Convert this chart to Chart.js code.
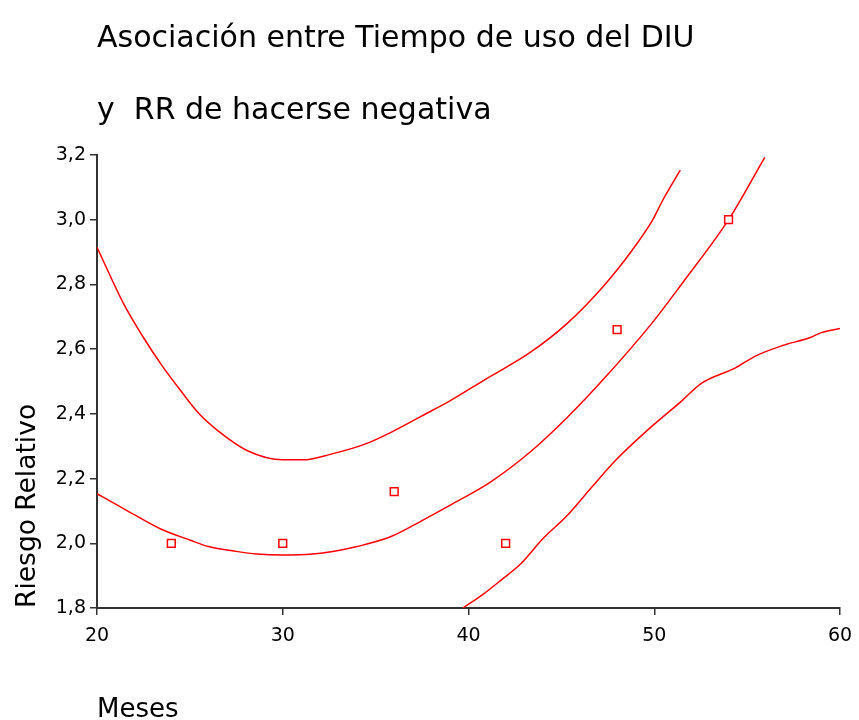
<!DOCTYPE html>
<html>
<head>
<meta charset="utf-8">
<script src="https://cdn.jsdelivr.net/npm/chart.js@4"></script>
<style>
   body { margin: 0; background: #fff; overflow: hidden; }
   #wrap { position: relative; width: 859px; height: 720px; }
   #grafico { display: block; }
   .txt {
      position: absolute;
      left: 97px;
      font-family: 'Comic Sans MS', 'DejaVu Sans', sans-serif;
      font-size: 30px;
      color: #000;
      white-space: pre;
      line-height: 1;
   }
</style>
</head>
<body>
<div id="wrap">
   <canvas id="grafico" width="859" height="720"></canvas>
   <div class="txt" style="top: 22px;">Asociación entre Tiempo de uso del DIU</div>
   <div class="txt" style="top: 94px;">y  RR de hacerse negativa</div>
   <div class="txt" style="top: 695px; font-size: 26px;">Meses</div>
</div>
<script>
// Ejes
const xTicks = [20, 30, 40, 50, 60];
const yTicks = [1.8, 2.0, 2.2, 2.4, 2.6, 2.8, 3.0, 3.2];

// RR observados
const mesesObs = [24, 30, 36, 42, 48, 54];
const rrObs = [2.0, 2.0, 2.16, 2.0, 2.66, 3.0];

// Curva ajustada
const mesesAjuste = [20, 21.5, 23.4, 25, 26, 27.5, 28.6, 30, 31.6, 33, 34, 35.8, 37.5, 39.4, 41.2, 43.4, 45.3, 47.3, 49.9, 51.5, 54, 55.95];
const rrAjuste = [2.153, 2.105, 2.045, 2.01, 1.99, 1.975, 1.967, 1.964, 1.967, 1.978, 1.99, 2.02, 2.07, 2.13, 2.19, 2.286, 2.388, 2.509, 2.682, 2.803, 3.0, 3.193];

// Limite superior
const mesesSup = [20, 21.4, 22.5, 23.5, 24.5, 25.5, 26.5, 28.1, 30, 31.1, 32.5, 34.5, 35.8, 37.5, 39, 40.8, 43.3, 45.3, 47.3, 48.8, 49.9, 50.4, 51.4];
const rrSup = [2.915, 2.744, 2.636, 2.549, 2.472, 2.40, 2.348, 2.286, 2.258, 2.258, 2.274, 2.308, 2.342, 2.394, 2.44, 2.503, 2.589, 2.679, 2.797, 2.905, 2.998, 3.054, 3.153];

// Limite inferior
const mesesInf = [39.7, 40.8, 41.7, 42.8, 44.0, 45.3, 46.7, 48.0, 49.9, 51.5, 52.5, 54.4, 55.5, 56.9, 58.4, 59.0, 60];
const rrInf = [1.80, 1.843, 1.884, 1.936, 2.014, 2.085, 2.178, 2.261, 2.363, 2.441, 2.493, 2.543, 2.58, 2.611, 2.636, 2.651, 2.664];

const rojo = '#ff0000';
const ejeColor = '#333333';
const fuente = "'Comic Sans MS', 'DejaVu Sans', sans-serif";

function puntos(xs, ys) {
   return xs.map((x, i) => ({ x: x, y: ys[i] }));
}

function curva(xs, ys) {
   return {
      type: 'line',
      data: puntos(xs, ys),
      borderColor: rojo,
      borderWidth: 1.5,
      pointRadius: 0,
      cubicInterpolationMode: 'monotone',
      fill: false,
      order: 1
   };
}

new Chart(document.getElementById('grafico'), {
   type: 'scatter',
   data: {
      datasets: [
         {
            data: puntos(mesesObs, rrObs),
            pointStyle: 'rect',
            pointRadius: 5.5,
            borderColor: rojo,
            backgroundColor: '#ffffff',
            borderWidth: 1.5,
            order: 0
         },
         curva(mesesAjuste, rrAjuste),
         curva(mesesSup, rrSup),
         curva(mesesInf, rrInf)
      ]
   },
   options: {
      responsive: false,
      animation: false,
      layout: {
         padding: { top: 155, right: 19, left: 0, bottom: 0 }
      },
      plugins: {
         legend: { display: false },
         tooltip: { enabled: false }
      },
      scales: {
         x: {
            type: 'linear',
            min: 20,
            max: 60,
            afterFit: function (scale) {
               scale.height = 112;
               // el margen derecho lo fija layout.padding
               scale.paddingLeft = 0;
               scale.paddingRight = 0;
            },
            afterBuildTicks: function (scale) {
               scale.ticks = xTicks.map(v => ({ value: v }));
            },
            ticks: {
               color: '#000',
               padding: 10,
               font: { family: fuente, size: 19 }
            },
            grid: {
               drawOnChartArea: false,
               drawTicks: true,
               tickLength: 7,
               color: ejeColor,
               lineWidth: 1.5
            },
            border: { color: ejeColor, width: 2 }
         },
         y: {
            min: 1.8,
            max: 3.2,
            afterFit: function (scale) { scale.width = 97; },
            afterBuildTicks: function (scale) {
               scale.ticks = yTicks.map(v => ({ value: v }));
            },
            ticks: {
               color: '#000',
               padding: 4,
               font: { family: fuente, size: 19 },
               callback: function (v) { return v.toFixed(1).replace('.', ','); }
            },
            grid: {
               drawOnChartArea: false,
               drawTicks: true,
               tickLength: 7,
               color: ejeColor,
               lineWidth: 1.5
            },
            border: { color: ejeColor, width: 2 },
            title: {
               display: true,
               text: 'Riesgo Relativo',
               align: 'start',
               color: '#000',
               padding: { top: 12, bottom: 0 },
               font: { family: fuente, size: 26.5 }
            }
         }
      }
   }
});
</script>
</body>
</html>
